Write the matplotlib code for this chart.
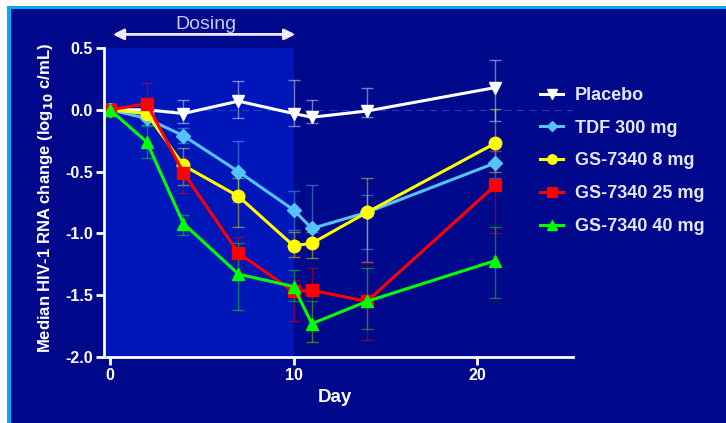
import matplotlib
matplotlib.use("Agg")
import matplotlib.pyplot as plt
from matplotlib.patches import Rectangle

plt.rcParams['font.family'] = ['Liberation Sans', 'DejaVu Sans']
plt.rcParams['axes.unicode_minus'] = False

# Data (median change, log10 c/mL).
days = [0, 2, 4, 7, 10, 11, 14, 21]
labels = ["Placebo", "TDF 300 mg", "GS-7340 8 mg", "GS-7340 25 mg", "GS-7340 40 mg"]

placebo = [0.0, 0.0, -0.03, 0.07, -0.03, -0.06, -0.01, 0.18]
placebo_hi = [0.0, 0.05, 0.08, 0.23, 0.24, 0.08, 0.18, 0.40]
placebo_lo = [0.0, -0.05, -0.11, -0.07, -0.13, -0.11, -0.06, -0.09]

tdf = [0.0, -0.07, -0.21, -0.50, -0.81, -0.96, -0.83, -0.43]
tdf_hi = [0.0, -0.02, -0.15, -0.25, -0.66, -0.61, -0.69, -0.33]
tdf_lo = [0.0, -0.12, -0.27, -0.75, -0.97, -1.10, -1.13, -0.55]

gs8 = [0.0, -0.03, -0.45, -0.70, -1.10, -1.08, -0.83, -0.27]
gs8_hi = [0.0, 0.02, -0.31, -0.55, -0.99, -0.99, -0.55, 0.01]
gs8_lo = [0.0, -0.08, -0.61, -0.95, -1.19, -1.20, -1.23, -0.50]

gs25 = [0.0, 0.05, -0.51, -1.16, -1.47, -1.46, -1.55, -0.61]
gs25_hi = [0.0, 0.22, -0.38, -1.03, -1.38, -1.28, -1.23, -0.33]
gs25_lo = [0.0, -0.05, -0.67, -1.30, -1.71, -1.88, -1.86, -1.00]

gs40 = [0.0, -0.26, -0.92, -1.33, -1.43, -1.73, -1.55, -1.22]
gs40_hi = [0.0, -0.13, -0.85, -1.08, -1.30, -1.55, -1.28, -0.95]
gs40_lo = [0.0, -0.39, -1.01, -1.62, -1.55, -1.88, -1.77, -1.52]

series = [
    (placebo, placebo_lo, placebo_hi, "#FFFFFF", "v", 9),
    (tdf, tdf_lo, tdf_hi, "#55C3F7", "D", 7),
    (gs8, gs8_lo, gs8_hi, "#FFFF00", "o", 9),
    (gs25, gs25_lo, gs25_hi, "#FF0000", "s", 9),
    (gs40, gs40_lo, gs40_hi, "#00FF00", "^", 9),
]

navy = "#00088C"
dosing_blue = "#0016B8"

fig = plt.figure(figsize=(7.26, 4.23), dpi=100, facecolor="white")
# slide frame: thin cyan border then navy panel
fig.patches.append(Rectangle((7 / 726, 0), 1, (423 - 6) / 423, transform=fig.transFigure,
                             facecolor="#00AEEF", edgecolor="none", zorder=-2))
fig.patches.append(Rectangle((11 / 726, 0), 1, (423 - 9) / 423, transform=fig.transFigure,
                             facecolor=navy, edgecolor="none", zorder=-1))

ax = fig.add_axes([104 / 726, (423 - 357) / 423, (573 - 104) / 726, (357 - 48) / 423])
ax.set_facecolor("none")
x_left = -0.33
ax.set_xlim(x_left, 25.23)
ax.set_ylim(-2.0, 0.5)

# dosing period shading
ax.axvspan(x_left, 10, color=dosing_blue, zorder=0, lw=0)
ax.axhline(0, color="#3F52D8", lw=0.9, ls=(0, (6, 4)), alpha=0.6, zorder=0.5)

handles = []
for vals, lo, hi, col, mk, ms in series:
    yerr = [[v - l for v, l in zip(vals, lo)], [h - v for v, h in zip(vals, hi)]]
    ax.errorbar(days, vals, yerr=yerr, fmt="none", ecolor=col, alpha=0.45,
                elinewidth=1, capsize=4, capthick=1, zorder=1, clip_on=False)
    line, = ax.plot(days, vals, color=col, lw=2.2, marker=mk, markersize=ms,
                    zorder=2, clip_on=False)
    handles.append(line)

# axes styling
for side in ["top", "right"]:
    ax.spines[side].set_visible(False)
for side in ["left", "bottom"]:
    ax.spines[side].set_color("white")
    ax.spines[side].set_linewidth(2)
ax.spines["bottom"].set_bounds(-0.16, 25.23)

ax.set_yticks([0.5, 0.0, -0.5, -1.0, -1.5, -2.0])
ax.set_yticklabels(["0.5", "0.0", "-0.5", "-1.0", "-1.5", "-2.0"])
ax.set_xticks([0, 10, 20])
ax.tick_params(colors="white", width=2, length=6, labelsize=11.5, pad=2)
for t in ax.get_xticklabels() + ax.get_yticklabels():
    t.set_fontweight("bold")

ax.set_ylabel("Median HIV-1 RNA change (log$_{\\mathbf{10}}$ c/mL)", color="white",
              fontsize=12, fontweight="bold")
ax.yaxis.set_label_coords(-0.105, 0.516)
ax.set_xlabel("Day", color="white", fontsize=13.5, fontweight="bold")
ax.xaxis.set_label_coords(0.4925, -0.105)

# dosing arrow and label
ax.annotate("", xy=(10.1, 0.61), xytext=(0.15, 0.61), annotation_clip=False,
            arrowprops=dict(arrowstyle="<|-|>", color="#ECECFA", lw=2,
                            mutation_scale=16, shrinkA=0, shrinkB=0))
ax.text(5.2, 0.69, "Dosing", color="#C8C8F2", fontsize=14, ha="center", va="center",
        clip_on=False)

leg = fig.legend(handles, labels, loc="upper left",
                 bbox_to_anchor=(540 / 726, (423 - 87) / 423), frameon=False,
                 fontsize=13, handlelength=1.3, handletextpad=0.65, labelspacing=0.87,
                 borderpad=0, borderaxespad=0, markerscale=0.75)
for t in leg.get_texts():
    t.set_color("#E6E6F2")
    t.set_fontweight("bold")

fig.savefig("out.png", dpi=100, facecolor=fig.get_facecolor())
